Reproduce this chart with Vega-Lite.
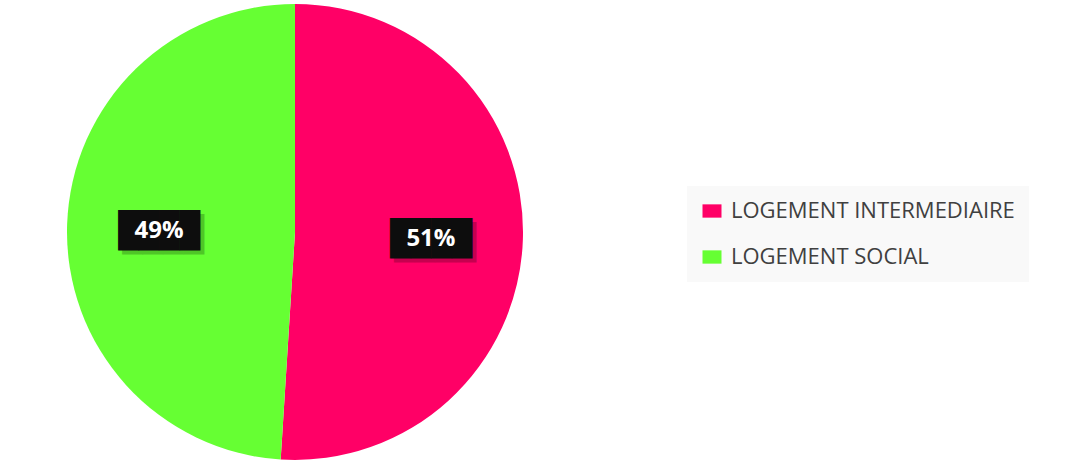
{
  "$schema": "https://vega.github.io/schema/vega-lite/v6.json",
  "width": 590,
  "height": 464,
  "padding": 0,
  "background": "#ffffff",
  "data": {"values": [
    {"category": "LOGEMENT INTERMEDIAIRE", "value": 51, "label": "51%", "rank": 1},
    {"category": "LOGEMENT SOCIAL", "value": 49, "label": "49%", "rank": 2}
  ]},
  "encoding": {
    "theta": {"field": "value", "type": "quantitative", "stack": true},
    "order": {"field": "rank", "type": "quantitative"}
  },
  "layer": [
    {
      "mark": {"type": "arc", "outerRadius": 228},
      "encoding": {
        "color": {
          "field": "category", "type": "nominal",
          "scale": {"domain": ["LOGEMENT INTERMEDIAIRE", "LOGEMENT SOCIAL"], "range": ["#FF0066", "#66FF33"]},
          "legend": {
            "title": null, "orient": "none", "legendX": 687, "legendY": 186,
            "fillColor": "#F9F9F9", "padding": 14,
            "symbolType": "M-1,-0.7H1V0.7H-1Z", "symbolSize": 361, "symbolStrokeWidth": 0,
            "labelFont": "Open Sans", "labelFontSize": 22, "labelColor": "#404040",
            "labelOffset": 8, "rowPadding": 24, "labelLimit": 500
          }
        }
      }
    },
    {
      "mark": {"type": "text", "radius": 136, "font": "DejaVu Sans Mono", "fontSize": 34, "color": "#000000", "opacity": 0.22, "dx": 4, "dy": 8},
      "encoding": {"text": {"value": "████"}}
    },
    {
      "mark": {"type": "text", "radius": 136, "font": "DejaVu Sans Mono", "fontSize": 34, "color": "#0d0d0d", "dy": 4},
      "encoding": {"text": {"value": "████"}}
    },
    {
      "mark": {"type": "text", "radius": 136, "font": "Open Sans", "fontWeight": "bold", "fontSize": 24, "color": "#ffffff", "dy": 3},
      "encoding": {"text": {"field": "label", "type": "nominal"}}
    }
  ],
  "config": {"view": {"stroke": null}}
}
